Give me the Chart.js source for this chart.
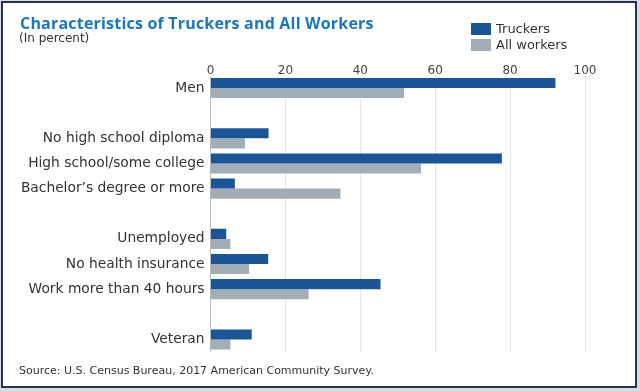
<!DOCTYPE html>
<html lang="en">
<head>
  <meta charset="UTF-8" />
  <title>Characteristics of Truckers and All Workers</title>
  <script src="https://cdn.jsdelivr.net/npm/chart.js"></script>
  <style>
    html, body { margin: 0; padding: 0; background: #d6dde6; }
    .frame {
      position: absolute; left: 1px; top: 1px; width: 632px; height: 383px;
      border: 2.5px solid #2a3150; background: #fff;
    }
    #chart { position: absolute; left: 0; top: 0; }
    .title {
      position: absolute; left: 20px; top: 12px; margin: 0;
      font: bold 16px "Open Sans", sans-serif; color: #1a76bd; letter-spacing: 0.2px;
    }
    .subtitle {
      position: absolute; left: 19px; top: 31px;
      font: 12px "DejaVu Sans", sans-serif; color: #333;
    }
    .legend { position: absolute; left: 471px; top: 21px; font: 13px "DejaVu Sans", sans-serif; color: #333; }
    .legend div { height: 16px; line-height: 12px; display: flex; align-items: center; }
    .legend span.box { display: inline-block; width: 20px; height: 12px; margin-right: 5px; }
    .source {
      position: absolute; left: 19px; top: 364px;
      font: 11px "DejaVu Sans", sans-serif; color: #333;
    }
  </style>
</head>
<body>
  <div class="frame"></div>
  <canvas id="chart" width="640" height="391"></canvas>
  <h1 class="title">Characteristics of Truckers and All Workers</h1>
  <div class="subtitle">(In percent)</div>
  <div class="legend">
    <div><span class="box" style="background:#1c5596"></span>Truckers</div>
    <div><span class="box" style="background:#a3adb5"></span>All workers</div>
  </div>
  <div class="source">Source: U.S. Census Bureau, 2017 American Community Survey.</div>

  <script>
    // empty labels are spacer rows between groups
    const categories = ['Men', '', 'No high school diploma', 'High school/some college',
      'Bachelor\u2019s degree or more', '', 'Unemployed', 'No health insurance',
      'Work more than 40 hours', '', 'Veteran'];
    const truckers   = [92.1, null, 15.5, 77.8, 6.5, null, 4.2, 15.4, 45.4, null, 11.0];
    const allWorkers = [51.7, null, 9.2, 56.2, 34.7, null, 5.3, 10.3, 26.2, null, 5.3];
    const xTicks = [0, 20, 40, 60, 80, 100];

    const ctx = document.getElementById('chart').getContext('2d');
    new Chart(ctx, {
      type: 'bar',
      data: {
        labels: categories,
        datasets: [
          { label: 'Truckers', data: truckers, backgroundColor: '#1c5596' },
          { label: 'All workers', data: allWorkers, backgroundColor: '#a3adb5' }
        ]
      },
      options: {
        indexAxis: 'y',
        responsive: false,
        animation: false,
        categoryPercentage: 0.8,
        barPercentage: 1.0,
        layout: { padding: { left: 0, right: 55, top: 0, bottom: 39 } },
        plugins: { legend: { display: false }, tooltip: { enabled: false } },
        scales: {
          x: {
            position: 'top',
            min: 0, max: 100,
            afterFit: s => { s.height = 75.5; },
            afterBuildTicks: s => { s.ticks = xTicks.map(v => ({ value: v })); },
            border: { display: false },
            grid: {
              drawTicks: false,
              color: c => c.index === 0 ? '#b4bcc4' : '#e4e7ea',
              lineWidth: 1
            },
            ticks: { padding: -3, color: '#444', font: { family: 'DejaVu Sans', size: 12 } }
          },
          y: {
            afterFit: s => { s.width = 210.5; },
            border: { display: false },
            grid: { display: false, drawTicks: false },
            ticks: { padding: 6, color: '#333', font: { family: 'DejaVu Sans', size: 13.8 } }
          }
        }
      }
    });
  </script>
</body>
</html>
